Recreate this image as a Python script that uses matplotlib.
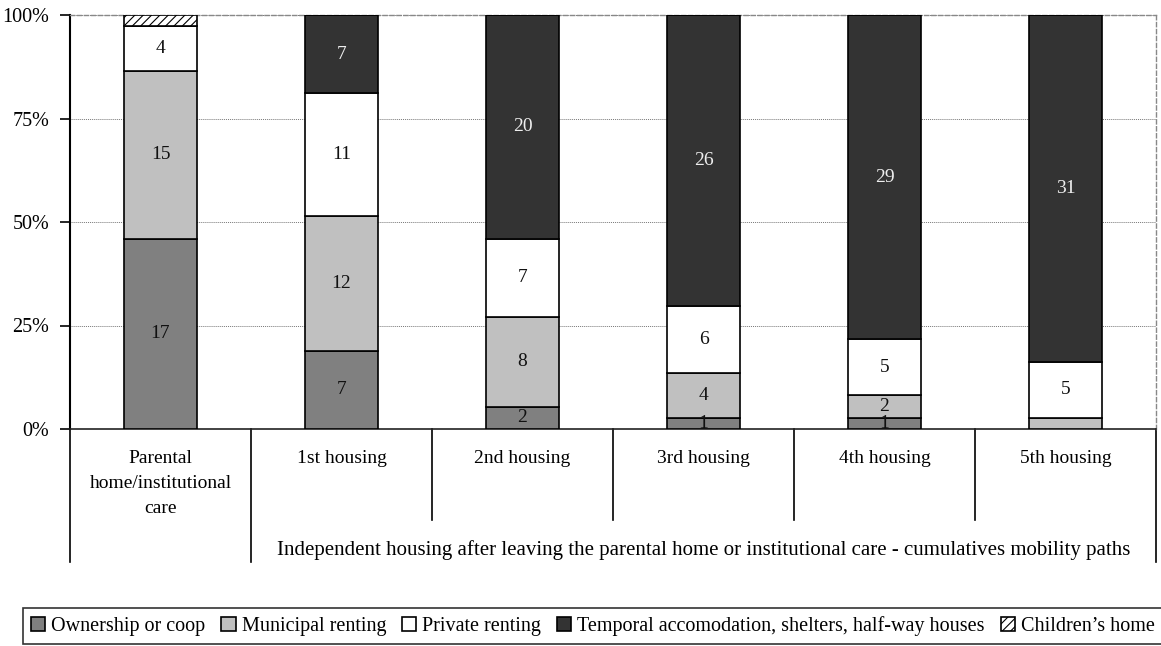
import matplotlib
matplotlib.use("Agg")
import matplotlib.pyplot as plt
import matplotlib.patches as mpatches
import numpy as np

plt.rcParams['font.family'] = ['Liberation Serif', 'DejaVu Serif']
plt.rcParams['hatch.linewidth'] = 0.8

# counts per housing stage
categories = ["Parental\nhome/institutional\ncare", "1st housing", "2nd housing",
              "3rd housing", "4th housing", "5th housing"]
series = ["Ownership or coop", "Municipal renting", "Private renting",
          "Temporal accomodation, shelters, half-way houses", "Children\u2019s home"]
ownership = [17, 7, 2, 1, 1, 0]
municipal = [15, 12, 8, 4, 2, 1]
private = [4, 11, 7, 6, 5, 5]
temporal = [0, 7, 20, 26, 29, 31]
childrens = [1, 0, 0, 0, 0, 0]
group_label = "Independent housing after leaving the parental home or institutional care - cumulatives mobility paths"

colors = ["#808080", "#c0c0c0", "#ffffff", "#333333", "#ffffff"]
hatches = [None, None, None, None, "////"]
text_colors = ["#111111", "#111111", "#111111", "#eeeeee", "#111111"]

W, H = 1161, 646
fig = plt.figure(figsize=(W / 100, H / 100), dpi=100)
ax = fig.add_axes([70 / W, (H - 429) / H, (1156 - 70) / W, 414 / H])

data = np.array([ownership, municipal, private, temporal, childrens], dtype=float)
totals = data.sum(axis=0)
shares = data / totals
x = np.arange(len(categories))
bottom = np.zeros(len(categories))
for i, name in enumerate(series):
    bars = ax.bar(x, shares[i], 0.4, bottom=bottom, color=colors[i], edgecolor="black",
                  linewidth=1.2, hatch=hatches[i], label=name, zorder=3)
    if hatches[i] is None:
        for j, b in enumerate(bars):
            if data[i, j] > 1 or (data[i, j] == 1 and i == 0):
                t = ax.text(x[j], bottom[j] + shares[i, j] / 2, f"{int(data[i, j])}",
                            ha="center", va="center", fontsize=14, color=text_colors[i], zorder=4)
                t.set_clip_path(b)
    bottom += shares[i]

ax.set_xlim(-0.5, 5.5)
ax.set_ylim(0, 1)
ax.set_yticks([0, 0.25, 0.5, 0.75, 1.0])
ax.set_yticklabels(["0%", "25%", "50%", "75%", "100%"], fontsize=14.5)
ax.set_xticks([])
ax.tick_params(axis="y", direction="out", length=7, width=1.2, pad=8)
ax.yaxis.grid(True, linestyle=(0, (1, 1)), color="#777777", linewidth=0.7, zorder=0)

ax.spines["left"].set_linewidth(1.5)
for s in ["top", "right"]:
    ax.spines[s].set_linestyle((0, (3, 2)))
    ax.spines[s].set_color("#888888")
    ax.spines[s].set_linewidth(1.0)
ax.spines["bottom"].set_linestyle((0, (4, 1)))
ax.spines["bottom"].set_color("#222222")
ax.spines["bottom"].set_linewidth(1.2)

# category table below the axis
trans = ax.get_xaxis_transform()
short = -(520 - 429) / 414
long = -(562 - 429) / 414
for k in range(len(categories) + 1):
    edge = k - 0.5
    y_end = long if k in (0, 1, len(categories)) else short
    ax.plot([edge, edge], [0, y_end], transform=trans, color="black", linewidth=1.2,
            clip_on=False)
for j, cat in enumerate(categories):
    ax.text(x[j], -(450 - 429) / 414, cat, transform=trans, ha="center", va="top",
            fontsize=14, linespacing=1.6)
ax.text((x[1] + x[-1]) / 2, -(550 - 429) / 414, group_label, transform=trans,
        ha="center", va="center", fontsize=15)

handles = [mpatches.Patch(facecolor=colors[i], edgecolor="black", hatch=hatches[i], linewidth=1.2)
           for i in range(len(series))]
leg = fig.legend(handles, series, loc="upper left", bbox_to_anchor=(23 / W, (H - 608) / H),
                 ncol=5, fontsize=14.5, frameon=True, fancybox=False, edgecolor="black",
                 handlelength=0.7, handleheight=0.7, handletextpad=0.3, columnspacing=0.8,
                 borderpad=0.4, borderaxespad=0)
leg.get_frame().set_linewidth(1.2)

fig.savefig("out.png", dpi=100)
